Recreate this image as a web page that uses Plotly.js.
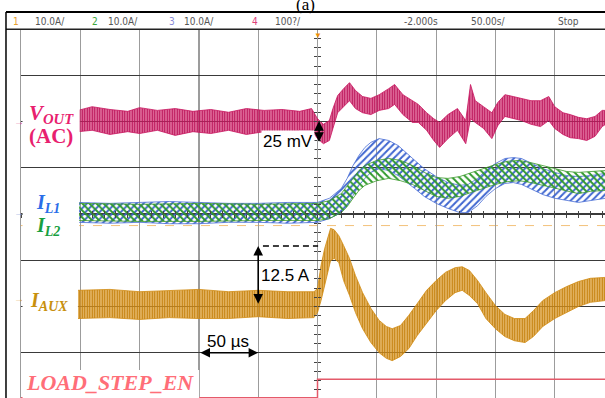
<!DOCTYPE html>
<html>
<head>
<meta charset="utf-8">
<script src="https://cdn.plot.ly/plotly-3.0.1.min.js"></script>
<style>html,body{margin:0;padding:0;background:#fff;}#chart{width:605px;height:398px;}</style>
</head>
<body>
<div id="chart"></div>
<script>
// Time axis in µs (50 µs/div), vertical values in screen divisions (0 = centre line)

// VOUT (AC) envelope
const voutT  = [-202,-190,-175,-160,-150,-135,-120,-105,-90,-75,-60,-45,-30,-15,-5,0,5,10,13,17,22,27,32,38,45,52,60,65,72,80,85,92,98,103,110,118,125,129,133,140,147,152,158,165,172,180,188,195,200,207,213,220,227,234,240,243];
const voutHi = [2.24,2.32,2.26,2.22,2.30,2.24,2.28,2.22,2.26,2.20,2.28,2.24,2.26,2.22,2.28,2.06,1.94,2.02,2.28,2.56,2.71,2.84,2.67,2.54,2.50,2.58,2.71,2.80,2.58,2.45,2.37,2.19,2.06,1.98,2.15,2.28,2.02,2.80,2.45,2.32,2.19,2.41,2.58,2.54,2.50,2.45,2.45,2.54,2.32,2.19,2.15,2.09,2.06,2.11,2.24,2.24];
const voutLo = [1.78,1.81,1.72,1.78,1.74,1.81,1.70,1.78,1.74,1.81,1.72,1.78,1.74,1.81,1.81,1.63,1.52,1.59,1.85,2.19,2.32,2.45,2.28,2.19,2.15,2.24,2.28,2.37,2.15,1.98,1.98,1.81,1.59,1.44,1.63,1.81,1.52,2.06,1.98,1.85,1.63,1.91,2.11,2.06,2.02,1.94,1.89,2.02,1.85,1.72,1.65,1.63,1.59,1.68,1.89,1.94];

// IL1 envelope
const il1T  = [-202,-175,-150,-125,-100,-75,-50,-25,0,10,20,25,30,35,40,45,52,60,68,75,82,90,100,110,120,127,135,142,150,158,165,172,180,190,200,210,220,230,243];
const il1Hi = [0.25,0.23,0.25,0.27,0.25,0.23,0.23,0.25,0.25,0.34,0.55,0.77,1.05,1.27,1.44,1.55,1.63,1.59,1.48,1.33,1.16,0.98,0.81,0.68,0.62,0.64,0.77,0.94,1.09,1.20,1.22,1.20,1.11,0.98,0.90,0.83,0.81,0.83,0.88];
const il1Lo = [-0.18,-0.20,-0.18,-0.21,-0.21,-0.18,-0.18,-0.20,-0.18,-0.10,0.03,0.18,0.40,0.62,0.77,0.90,0.98,0.94,0.83,0.68,0.55,0.38,0.23,0.12,0.03,0.03,0.18,0.38,0.55,0.66,0.68,0.64,0.55,0.42,0.34,0.29,0.25,0.29,0.34];

// IL2 envelope
const il2T  = [-202,-150,-100,-50,0,10,20,25,30,35,40,50,60,70,80,90,100,110,120,130,140,150,160,170,180,190,200,210,220,230,243];
const il2Hi = [0.23,0.21,0.23,0.21,0.23,0.29,0.44,0.60,0.77,0.94,1.05,1.16,1.20,1.16,1.05,0.90,0.79,0.77,0.81,0.90,0.98,1.07,1.14,1.16,1.11,1.05,0.98,0.92,0.90,0.92,0.94];
const il2Lo = [-0.14,-0.16,-0.16,-0.14,-0.14,-0.10,0.03,0.16,0.34,0.51,0.62,0.72,0.77,0.72,0.64,0.51,0.38,0.34,0.38,0.47,0.55,0.64,0.70,0.72,0.68,0.62,0.55,0.49,0.44,0.49,0.51];

// IAUX envelope
const iauxT  = [-202,-175,-150,-125,-100,-75,-50,-25,-3,0,3,6,9,11,14,18,22,27,32,38,45,52,58,63,70,77,84,92,100,108,116,122,128,135,142,150,158,166,175,182,190,200,210,220,230,243];
const iauxHi = [-1.65,-1.63,-1.68,-1.65,-1.63,-1.68,-1.65,-1.68,-1.68,-1.61,-1.11,-0.75,-0.47,-0.31,-0.34,-0.47,-0.68,-0.96,-1.33,-1.70,-2.04,-2.30,-2.43,-2.48,-2.41,-2.19,-1.94,-1.65,-1.44,-1.26,-1.16,-1.14,-1.22,-1.44,-1.70,-1.98,-2.17,-2.26,-2.26,-2.09,-1.87,-1.70,-1.57,-1.46,-1.39,-1.37];
const iauxLo = [-2.26,-2.24,-2.28,-2.24,-2.26,-2.26,-2.22,-2.26,-2.24,-2.13,-1.87,-1.55,-1.18,-1.01,-0.96,-1.05,-1.44,-1.76,-2.13,-2.48,-2.78,-3.00,-3.12,-3.17,-3.08,-2.91,-2.63,-2.35,-2.09,-1.87,-1.70,-1.65,-1.76,-1.94,-2.26,-2.48,-2.65,-2.74,-2.78,-2.65,-2.43,-2.26,-2.13,-2.00,-1.91,-1.87];

// LOAD_STEP_EN
const stepT = [-250, 0, 0, 243];
const stepV = [-3.97, -3.97, -3.57, -3.57];

// Status bar texts
const statusTexts = ['1','10.0A/','2','10.0A/','3','10.0A/','4','100?/','-2.000s','50.00s/','Stop'];

function band(t, hi, lo, lineColor, pattern) {
  return [
    {x: t, y: hi, type: 'scatter', mode: 'lines', line: {color: lineColor, width: 0.8}, hoverinfo: 'skip'},
    {x: t, y: lo, type: 'scatter', mode: 'lines', line: {color: lineColor, width: 0.8}, fill: 'tonexty', fillcolor: 'rgba(0,0,0,0)', fillpattern: pattern, hoverinfo: 'skip'}
  ];
}

const traces = [].concat(
  band(voutT, voutHi, voutLo, '#c8145e', {shape:'|', fgcolor:'#b80f55', bgcolor:'rgba(215,40,110,0.6)', size:2.5, solidity:0.5}),
  band(il1T, il1Hi, il1Lo, '#4a6fd6', {shape:'/', fgcolor:'#3f66d0', bgcolor:'rgba(0,0,0,0)', size:5, solidity:0.4}),
  band(il2T, il2Hi, il2Lo, '#3c9a2c', {shape:'\\', fgcolor:'#2f9a2a', bgcolor:'rgba(0,0,0,0)', size:5, solidity:0.4}),
  band(iauxT, iauxHi, iauxLo, '#d08a10', {shape:'|', fgcolor:'#c27c06', bgcolor:'rgba(225,160,50,0.65)', size:2.5, solidity:0.5}),
  [{x: stepT, y: stepV, type: 'scatter', mode: 'lines', line: {color: '#e45a6a', width: 1.5}, hoverinfo: 'skip'}],
  // carriers for the centre-line tick axes
  [{x:[-300], y:[-10], xaxis:'x2', yaxis:'y', mode:'markers', marker:{opacity:0}, hoverinfo:'skip'},
   {x:[-300], y:[-10], xaxis:'x3', yaxis:'y', mode:'markers', marker:{opacity:0}, hoverinfo:'skip'},
   {x:[-300], y:[-10], xaxis:'x', yaxis:'y2', mode:'markers', marker:{opacity:0}, hoverinfo:'skip'},
   {x:[-300], y:[-10], xaxis:'x', yaxis:'y3', mode:'markers', marker:{opacity:0}, hoverinfo:'skip'}]
);

const statusX = [-0.017, 0.0205, 0.118, 0.1455, 0.25, 0.2757, 0.392, 0.4315, 0.6524, 0.767, 0.9161];
const statusC = ['#e8a030','#555','#3aa63a','#555','#8a8ad8','#555','#e0407a','#555','#555','#555','#555'];
const annotations = statusTexts.map((s, i) => ({
  xref: 'paper', yref: 'paper', x: statusX[i], y: 1.0216, xanchor: 'left', yanchor: 'middle',
  text: s, showarrow: false, font: {family: 'Liberation Sans Narrow, DejaVu Sans Condensed, Liberation Sans, Arial', size: 10, color: statusC[i]}
}));

const serif = 'Liberation Serif, Times New Roman, serif';
const sans = 'Liberation Sans, Arial, sans-serif';
annotations.push(
  {xref:'paper', yref:'paper', x:0.487, y:1.0676, xanchor:'center', yanchor:'middle', text:'(a)', showarrow:false, font:{family: serif, size:17, color:'#000'}},
  {xref:'x', yref:'y', x:-224.7, y:2.16, text:'<b><i>V<sub>OUT</sub></i></b>', showarrow:false, font:{family: serif, size:21, color:'#e8206e'}},
  {xref:'x', yref:'y', x:-224.7, y:1.68, text:'<b>(AC)</b>', showarrow:false, font:{family: serif, size:21, color:'#e8206e'}},
  {xref:'x', yref:'y', x:-227.2, y:0.22, text:'<b><i>I<sub>L1</sub></i></b>', showarrow:false, font:{family: serif, size:20, color:'#2a6ee8'}},
  {xref:'x', yref:'y', x:-227.2, y:-0.28, text:'<b><i>I<sub>L2</sub></i></b>', showarrow:false, font:{family: serif, size:20, color:'#18a040'}},
  {xref:'x', yref:'y', x:-226.4, y:-1.90, text:'<b><i>I<sub>AUX</sub></i></b>', showarrow:false, font:{family: serif, size:20, color:'#c8900e'}},
  {xref:'x', yref:'y', x:-174.6, y:-3.65, text:'<b><i>LOAD_STEP_EN</i></b>', showarrow:false, font:{family: serif, size:22, color:'#ff6e78'}},
  {xref:'x', yref:'y', x:-24.9, y:1.56, text:'25 mV', showarrow:false, bgcolor:'#fff', font:{family: sans, size:17, color:'#000'}},
  {xref:'x', yref:'y', x:-26.6, y:-1.34, text:'12.5 A', showarrow:false, font:{family: sans, size:17, color:'#000'}},
  {xref:'x', yref:'y', x:-75.5, y:-2.75, text:'50 µs', showarrow:false, font:{family: sans, size:17, color:'#000'}},
  // double arrows
  {xref:'x', yref:'y', axref:'x', ayref:'y', x:1.3, y:2.01, ax:1.3, ay:1.53, text:'', showarrow:true, arrowhead:2, arrowside:'end+start', arrowsize:1.2, arrowwidth:1.6, arrowcolor:'#000', standoff:0, startstandoff:0},
  {xref:'x', yref:'y', axref:'x', ayref:'y', x:-50, y:-0.69, ax:-50, ay:-1.97, text:'', showarrow:true, arrowhead:2, arrowside:'end+start', arrowsize:1.2, arrowwidth:1.6, arrowcolor:'#000', standoff:0, startstandoff:0},
  {xref:'x', yref:'y', axref:'x', ayref:'y', x:-50, y:-3.0, ax:-100, ay:-3.0, text:'', showarrow:true, arrowhead:2, arrowside:'end+start', arrowsize:1.2, arrowwidth:1.6, arrowcolor:'#000', standoff:0, startstandoff:0},
  // trigger marker
  {xref:'x', yref:'y', x:0.5, y:3.99, yanchor:'top', text:'▼', showarrow:false, font:{family: sans, size:8, color:'#f0900a'}},
  // channel markers
  {xref:'paper', yref:'y', x:-0.016, y:1.99, text:'→', showarrow:false, font:{family: sans, size:10, color:'#e05090'}},
  {xref:'paper', yref:'y', x:-0.016, y:0.04, text:'→', showarrow:false, font:{family: sans, size:10, color:'#6080d0'}},
  {xref:'paper', yref:'y', x:-0.016, y:-1.82, text:'→', showarrow:false, font:{family: sans, size:10, color:'#e0a040'}}
);

const shapes = [
  {type:'line', xref:'paper', yref:'y', x0:0, x1:1, y0:-0.25, y1:-0.25, line:{color:'#f3c27a', width:1, dash:'dash'}, layer:'below'},
  {type:'rect', xref:'x', yref:'y', x0:-248.7, x1:-200.5, y0:1.38, y1:2.57, fillcolor:'#fff', line:{width:0}, layer:'above'},
  {type:'rect', xref:'x', yref:'y', x0:-248.7, x1:-201, y0:-0.67, y1:0.63, fillcolor:'#fff', line:{width:0}, layer:'above'},
  {type:'rect', xref:'x', yref:'y', x0:-248.7, x1:-202, y0:-2.77, y1:-1.17, fillcolor:'#fff', line:{width:0}, layer:'above'},
  {type:'rect', xref:'x', yref:'y', x0:-248.7, x1:-99.8, y0:-3.99, y1:-3.37, fillcolor:'#fff', line:{width:0}, layer:'above'},
  {type:'line', xref:'x', yref:'y', x0:-46, x1:0.5, y0:-0.69, y1:-0.69, line:{color:'#000', width:1.5, dash:'6px,4px'}, layer:'above'},
  {type:'line', xref:'paper', yref:'paper', x0:-0.0257, x1:1.02, y0:1.0459, y1:1.0459, line:{color:'#000', width:2}},
  {type:'line', xref:'paper', yref:'paper', x0:-0.0257, x1:1.02, y0:0.999, y1:0.999, line:{color:'#222', width:1.5}},
  {type:'line', xref:'paper', yref:'paper', x0:-0.0257, x1:-0.0257, y0:1.0459, y1:-0.02, line:{color:'#000', width:1.5}}
];

const hidden = {showticklabels:false, showgrid:false, zeroline:false, showline:false, fixedrange:true};
const layout = {
  width: 605, height: 398,
  margin: {l: 21, r: 0, t: 29, b: 0, pad: 0},
  paper_bgcolor: '#fff', plot_bgcolor: '#fff',
  showlegend: false,
  hovermode: false,
  xaxis: {range: [-250, 242.4], dtick: 50, tick0: 0, showgrid: true, gridcolor: '#9c9c9c', gridwidth: 1.2, zeroline: false, showticklabels: false, ticks: '', showline: false, fixedrange: true},
  yaxis: {range: [-3.978, 4], dtick: 1, tick0: 0, showgrid: true, gridcolor: '#3a3a3a', gridwidth: 1.3, zeroline: false, showticklabels: false, ticks: '', showline: true, linecolor: '#9c9c9c', linewidth: 1.5, fixedrange: true},
  xaxis2: Object.assign({overlaying:'x', anchor:'free', position:0.4986, range:[-250,242.4], dtick:10, tick0:0, ticks:'outside', ticklen:3, tickcolor:'#444', tickwidth:1}, hidden),
  xaxis3: Object.assign({overlaying:'x', anchor:'free', position:0.4986, range:[-250,242.4], dtick:10, tick0:0, ticks:'inside', ticklen:3, tickcolor:'#444', tickwidth:1}, hidden),
  yaxis2: Object.assign({overlaying:'y', anchor:'free', position:0.5077, range:[-3.978,4], dtick:0.2, tick0:0, ticks:'outside', ticklen:3, tickcolor:'#444', tickwidth:1}, hidden),
  yaxis3: Object.assign({overlaying:'y', anchor:'free', position:0.5077, range:[-3.978,4], dtick:0.2, tick0:0, ticks:'inside', ticklen:3, tickcolor:'#444', tickwidth:1}, hidden),
  annotations: annotations,
  shapes: shapes
};

Plotly.newPlot('chart', traces, layout, {staticPlot: true, displayModeBar: false});
</script>
</body>
</html>
